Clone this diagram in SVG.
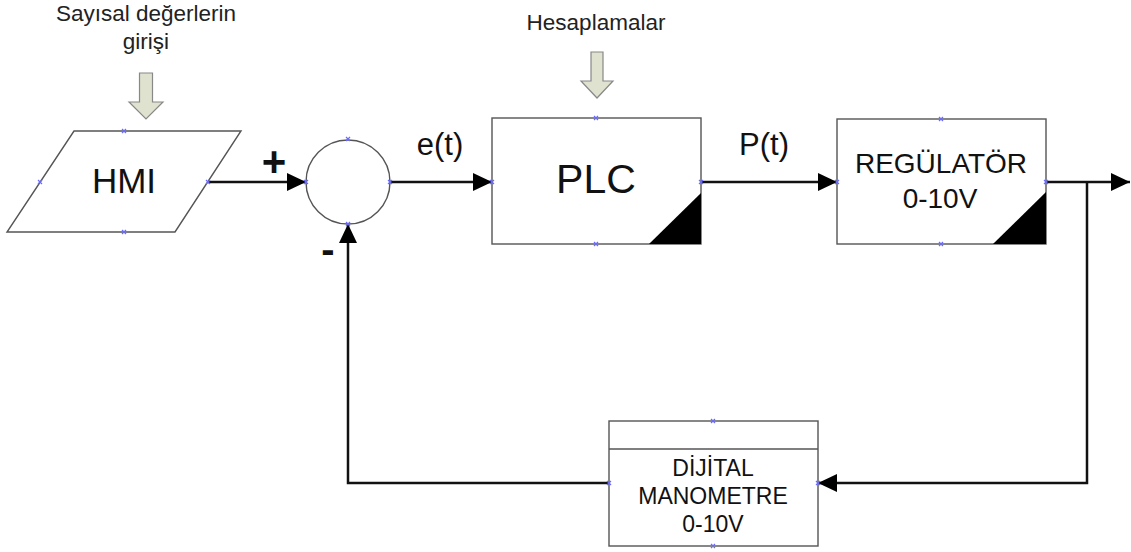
<svg xmlns="http://www.w3.org/2000/svg" width="1131" height="552" viewBox="0 0 1131 552">
<defs>
<style>
text{font-family:"Liberation Sans",Arial,sans-serif;fill:#111;text-anchor:middle}
.box{fill:#fff;stroke:#555;stroke-width:1.4}
.tri{fill:#000}
.conn{fill:none;stroke:#111;stroke-width:2.5}
.blk{fill:#dfe2cf;stroke:#888;stroke-width:1.2}
.pt{stroke:#6a6aff;stroke-width:1.2}
.note{font-size:22.5px;fill:#222}
</style>
<marker id="ah" viewBox="0 0 19 18" refX="19" refY="9" markerWidth="19" markerHeight="18" markerUnits="userSpaceOnUse" orient="auto">
<path d="M0,0 L19,9 L0,18 Z" fill="#000"/>
</marker>
</defs>

<g id="note-hmi">
<text class="note" x="146" y="21">Sayısal değerlerin</text>
<text class="note" x="146" y="49">girişi</text>
<path class="blk" d="M139.5,73 H152.5 V102 H163 L146,119 L129,102 H139.5 Z"/>
</g>

<g id="note-plc">
<text class="note" x="596" y="30">Hesaplamalar</text>
<path class="blk" d="M591,52 H603 V81 H613 L597,98 L581,81 H591 Z"/>
</g>

<g id="connectors">
<line class="conn" x1="208" y1="182" x2="306" y2="182" marker-end="url(#ah)"/>
<line class="conn" x1="390" y1="182" x2="492" y2="182" marker-end="url(#ah)"/>
<line class="conn" x1="701" y1="182" x2="837" y2="182" marker-end="url(#ah)"/>
<line class="conn" x1="1046" y1="182" x2="1130" y2="182" marker-end="url(#ah)"/>
<polyline class="conn" points="1087,182 1087,483 818,483" marker-end="url(#ah)"/>
<polyline class="conn" points="609,483 348,483 348,224" marker-end="url(#ah)"/>
<text x="274" y="176" font-size="42" font-weight="bold">+</text>
<text x="328" y="263" font-size="40" font-weight="bold">-</text>
<text x="440" y="155" font-size="31">e(t)</text>
<text x="764" y="155" font-size="31">P(t)</text>
</g>

<g id="hmi">
<path class="box" d="M74,131 H241 L175,232 H7 Z"/>
<text x="124" y="193" font-size="35">HMI</text>
</g>

<g id="sum">
<circle class="box" cx="348" cy="182" r="42"/>
</g>

<g id="plc">
<rect class="box" x="492" y="118" width="209" height="126"/>
<path class="tri" d="M649,244 H701 V193 Z"/>
<text x="596" y="193" font-size="41">PLC</text>
</g>

<g id="regulator">
<rect class="box" x="837" y="119" width="209" height="125"/>
<path class="tri" d="M993,244 H1046 V192 Z"/>
<text x="941" y="173" font-size="28">REGÜLATÖR</text>
<text x="940" y="208" font-size="28">0-10V</text>
</g>

<g id="manometre">
<rect class="box" x="609" y="421" width="209" height="125"/>
<line class="box" x1="609" y1="449" x2="818" y2="449"/>
<text x="713" y="476" font-size="23">DİJİTAL</text>
<text x="713" y="504" font-size="23">MANOMETRE</text>
<text x="713" y="532" font-size="23">0-10V</text>
</g>

<g id="points">
<path class="pt" d="M122,129 l4,4 m0,-4 l-4,4 M122,230 l4,4 m0,-4 l-4,4 M38,180 l4,4 m0,-4 l-4,4 M206,180 l4,4 m0,-4 l-4,4
M346,137 l4,4 m0,-4 l-4,4 M346,222 l4,4 m0,-4 l-4,4 M304,180 l4,4 m0,-4 l-4,4 M388,180 l4,4 m0,-4 l-4,4
M594,116 l4,4 m0,-4 l-4,4 M594,242 l4,4 m0,-4 l-4,4 M490,180 l4,4 m0,-4 l-4,4 M699,180 l4,4 m0,-4 l-4,4
M939,117 l4,4 m0,-4 l-4,4 M939,242 l4,4 m0,-4 l-4,4 M835,180 l4,4 m0,-4 l-4,4 M1044,180 l4,4 m0,-4 l-4,4
M711,419 l4,4 m0,-4 l-4,4 M711,544 l4,4 m0,-4 l-4,4 M607,481 l4,4 m0,-4 l-4,4 M816,481 l4,4 m0,-4 l-4,4"/>
</g>
</svg>
